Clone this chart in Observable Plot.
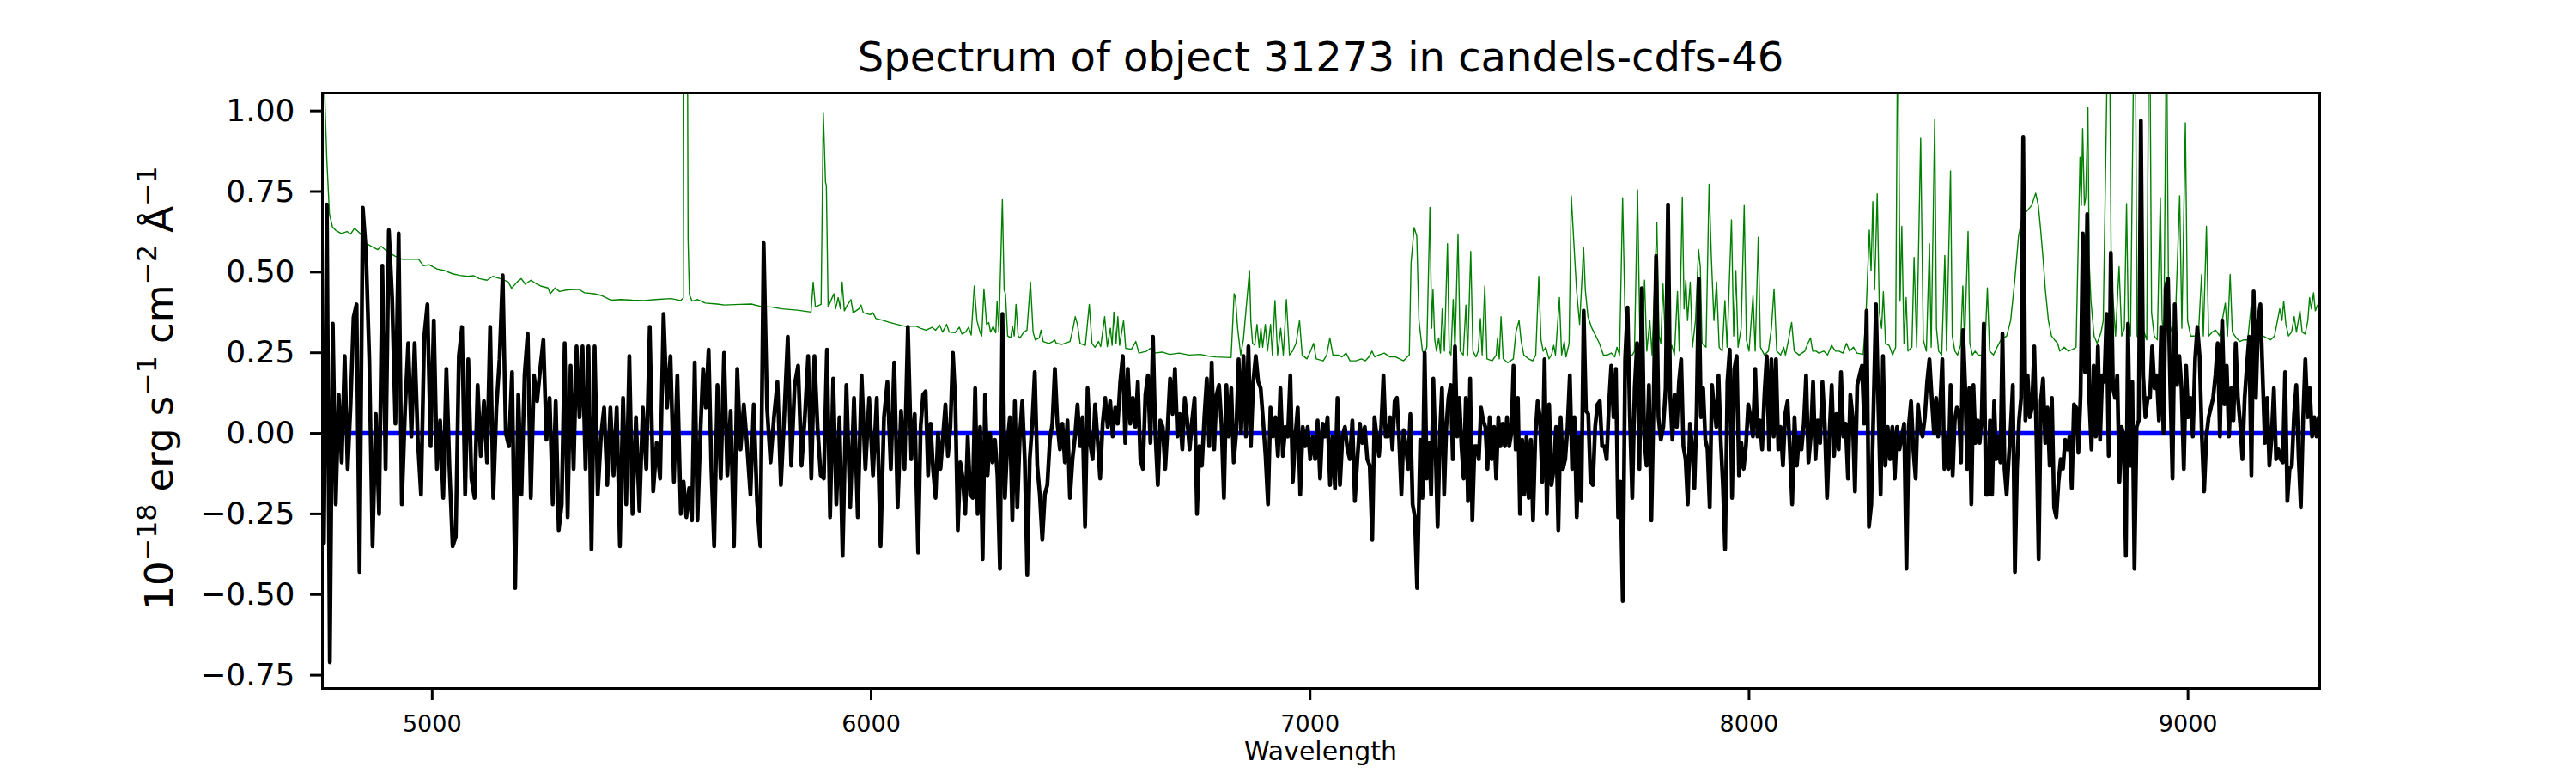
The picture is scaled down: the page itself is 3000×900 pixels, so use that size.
<!DOCTYPE html>
<html><head><meta charset="utf-8">
<script src="https://cdn.jsdelivr.net/npm/d3@7"></script>
<script src="https://cdn.jsdelivr.net/npm/@observablehq/plot@0.6"></script>
<style>
body{margin:0;background:#fff;width:3000px;font-family:"DejaVu Sans",sans-serif;}
#title{margin-left:375px;width:2326px;text-align:center;font-size:48px;line-height:70px;height:70px;padding-top:31px;color:#000;white-space:nowrap;}
#chart svg{display:block;}
</style></head><body>
<div id="title">Spectrum of object 31273 in candels-cdfs-46</div>
<div id="chart"></div>
<script>
// Tick values
const xTicks = [5000, 6000, 7000, 8000, 9000];
const yTicks = [-0.75, -0.5, -0.25, 0, 0.25, 0.5, 0.75, 1.0];
const xDomain = [4750, 9300];
const yDomain = [-0.791, 1.055];

// Observed flux (black), read in four wavelength stretches
const fluxA = [-0.34,0.71,-0.71,0.34,-0.22,0.12,-0.09,0.24,-0.11,0.09,0.36,0.40,-0.43,0.70,0.56,0.23,-0.35,0.06,-0.25,0.52,-0.11,0.63,0.42,0.03,0.62,-0.22,0.07,0.28,-0.01,0.28,-0.02,-0.19,0.30,0.40,-0.04,0.35,-0.11,0.04,-0.20,0.20,-0.11,-0.35,-0.32,0.24,0.33,-0.19,0.23,-0.14,-0.20,0.15,-0.07,0.10,-0.09,0.33,-0.20,0.08,0.23,0.49,0.00,-0.04,0.19,-0.48,0.12,-0.19,0.18,0.31,-0.20,0.18,0.10,0.20,0.29,-0.02,0.11,-0.22,0.10,-0.30,-0.22,0.28,-0.26,0.21,-0.11,0.27,0.05,0.27,-0.11,0.27,-0.36,0.27,-0.19,-0.01,0.08,-0.16,0.08,-0.13,0.08,-0.35,0.11,-0.22,0.24,-0.25,0.05,-0.24,0.08,-0.11,0.33,-0.18,-0.03,-0.14,0.37,0.08,0.24,-0.15,0.18,-0.25,-0.15,-0.26,-0.17,-0.27,0.22,-0.27,-0.01,0.20,0.08,0.26,-0.11,-0.35,0.15,-0.14,0.25,-0.13,0.07,-0.35,0.20,-0.05,0.09,-0.04,-0.19,0.09,-0.21,-0.35,0.59,0.08,-0.09,0.05,0.16,-0.16,0.06,0.30,-0.10,0.15,0.21,-0.10,0.06,0.24,-0.14,0.24,0.02,-0.13,-0.14,0.26,-0.26,0.17,-0.22,0.05,-0.38,0.15,-0.23,0.11,-0.26,0.18,-0.11,0.11,-0.13,0.11,-0.35,0.05,0.16,-0.11,0.22,-0.23,0.07,-0.11,0.33,-0.08,0.06,-0.37];
const fluxB = [0.02,0.12,0.13,-0.13,0.03,-0.11,-0.20,0.00,-0.11,-0.01,0.09,-0.07,0.02,0.25,0.10,-0.30,-0.09,-0.14,-0.25,-0.01,-0.19,-0.20,0.14,-0.25,0.02,-0.39,0.12,-0.13,0.00,-0.09,-0.02,-0.13,-0.42,0.37,-0.20,-0.03,0.05,-0.27,0.10,-0.23,-0.01,0.10,-0.08,-0.44,-0.08,0.03,0.19,-0.10,-0.19,-0.33,-0.19,-0.16,-0.02,0.03,0.20,0.03,-0.05,0.03,-0.09,0.04,-0.20,-0.08,-0.01,0.09,-0.04,0.05,-0.29,0.14,-0.03,-0.08,0.09,-0.02,-0.14,0.03,0.11,0.02,0.10,-0.01,0.08,0.03,0.16,0.24,-0.03,0.20,0.03,0.11,0.02,0.16,-0.08,-0.11,0.12,0.18,-0.03,0.30,0.00,-0.16,0.04,0.02,-0.11,0.02,0.17,0.06,0.20,-0.01,0.06,-0.05,0.11,0.04,-0.05,0.04,0.11,-0.25,-0.04,-0.10,0.05,0.17,-0.04,0.22,-0.05,0.12,0.15,0.03,-0.20,0.15,-0.01,0.14,-0.09,0.00,0.23,0.00,0.24,-0.01,0.27,-0.04,0.16,0.24,0.16,0.14,0.04,-0.07,-0.22,0.08,-0.01,0.05,-0.07,0.14,-0.07,0.02,-0.01,0.18,-0.15,-0.01,0.08,-0.19,0.02,-0.04,0.02,-0.08,-0.01,-0.08,0.04,-0.14,0.03,-0.01,0.05,-0.16,-0.01,-0.17,0.11,-0.16,-0.01,0.02,-0.05,-0.08,0.04,-0.21,-0.08,0.03,-0.03,0.02,-0.08,-0.10,-0.33,0.05,-0.01,-0.07,0.02,0.18,-0.01,-0.01,0.05,-0.05,0.10,0.11,-0.02,-0.19,0.01,-0.04,-0.11,0.06,-0.22,-0.26,-0.48];
const fluxC = [-0.02,-0.20,0.25,-0.14,-0.03,-0.19,0.17,-0.04,-0.29,-0.01,0.14,-0.19,0.02,0.11,0.15,-0.08,0.27,-0.01,0.11,-0.04,-0.14,0.11,-0.21,0.17,-0.27,-0.04,-0.04,-0.08,0.08,0.04,0.02,-0.11,0.05,-0.08,0.02,-0.14,0.05,-0.04,0.03,-0.04,0.05,-0.04,0.00,0.21,-0.05,0.11,-0.25,-0.02,-0.19,-0.01,-0.20,-0.02,-0.27,-0.01,0.10,0.05,-0.15,0.23,-0.25,0.09,-0.16,-0.11,0.02,-0.30,0.05,-0.11,-0.08,0.02,0.18,-0.11,0.05,-0.26,-0.01,-0.21,0.38,0.07,0.06,-0.15,-0.16,0.02,0.09,0.10,-0.04,-0.04,-0.08,0.09,0.21,0.05,0.20,-0.26,-0.15,-0.52,0.23,0.39,0.05,-0.20,0.14,0.28,-0.11,0.45,-0.01,-0.10,0.15,-0.27,0.11,0.55,0.05,-0.02,0.02,0.14,0.71,0.12,-0.02,0.12,0.02,0.16,0.23,-0.04,-0.08,-0.22,0.03,-0.04,-0.17,0.06,0.48,0.05,0.14,-0.02,-0.05,-0.23,0.15,0.08,0.02,0.18,-0.02,-0.16,-0.36,0.16,0.26,-0.20,0.20,0.24,-0.13,-0.03,-0.11,-0.04,0.09,0.05,-0.01,0.20,-0.01,0.04,-0.05,0.12,0.24,-0.05,0.23,-0.01,0.23,-0.05,0.02,-0.10,0.06,0.10,-0.05,-0.22,0.05,-0.10,-0.01,-0.05,0.03,0.18,-0.09,-0.01,0.16,-0.08,0.04,-0.03,0.16,0.03,-0.20,-0.01,0.15,-0.07,0.06,-0.05,0.19,-0.01,0.03,-0.14,0.12,0.05,-0.18,0.15,0.18,0.21,0.03,0.38,-0.29,-0.22,0.09,0.40,0.09,-0.19,0.24,-0.10,0.02,-0.08,0.02,-0.14,0.02,-0.05,-0.01,0.03,-0.42,0.02,0.10,-0.05,-0.14,0.09,0.02,-0.01,0.05,0.16,0.23];
const fluxD = [0.10,0.00,0.11,-0.01,0.09,0.23,-0.11,-0.01,-0.11,0.15,-0.13,0.04,0.08,0.07,-0.09,0.32,0.15,-0.11,0.14,-0.22,0.15,-0.03,0.04,-0.03,0.05,0.34,-0.19,-0.19,0.04,-0.19,0.10,-0.08,-0.01,-0.09,0.31,-0.11,-0.19,-0.08,0.02,0.15,-0.43,-0.11,0.04,0.11,0.92,0.04,0.18,0.05,0.08,0.27,-0.01,-0.39,0.10,0.17,-0.03,0.08,-0.10,0.11,-0.23,-0.26,-0.15,-0.08,-0.11,-0.02,-0.05,-0.01,-0.17,0.09,0.08,-0.06,0.12,0.62,0.19,0.68,0.10,-0.05,0.21,-0.01,0.27,-0.02,0.18,0.16,0.37,-0.07,0.56,0.14,0.11,0.18,-0.15,0.02,-0.01,-0.38,0.34,-0.10,0.16,-0.42,0.02,0.04,0.97,0.18,0.05,0.11,0.11,0.27,0.14,0.18,0.04,0.33,0.00,0.45,0.48,0.14,-0.14,0.40,0.15,0.24,0.14,-0.11,0.21,0.05,0.11,-0.01,0.23,0.33,0.24,-0.01,-0.18,-0.01,0.05,0.08,0.11,0.18,0.28,-0.01,0.35,0.09,0.21,-0.01,0.14,0.04,0.28,0.11,0.03,-0.08,0.11,0.21,0.30,-0.13,0.44,0.11,0.35,0.40,0.18,-0.03,0.11,-0.10,-0.01,0.14,-0.08,-0.05,-0.08,-0.09,0.19,-0.21,-0.11,-0.10,0.06,0.15,-0.07,-0.23,0.04,0.23,0.05,0.14,-0.01,0.05,-0.01,0.05];
// Wavelengths read at marked samples of each stretch: [sample index, wavelength]
const waveAnchorsA = [[0,4753.3],[12,4834.5],[24,4923.6],[36,5011.0],[48,5096.5],[61,5189.1],[73,5274.7],[86,5362.9],[99,5456.4],[113,5566.4],[125,5642.4],[140,5755.1],[152,5849.4],[164,5935.0],[174,6021.5],[185,6107.1]];
const waveAnchorsB = [[0,6112.8],[43,6355.6],[93,6642.0],[140,6904.1],[182,7141.6],[202,7243.8]];
const waveAnchorsC = [[0,7251.1],[52,7507.9],[91,7712.3],[110,7815.4],[136,7945.5],[165,8098.3],[197,8267.8],[214,8358.6],[224,8411.0]];
const waveAnchorsD = [[0,8416.7],[44,8624.6],[73,8770.4],[98,8892.7],[134,9077.9],[177,9298.0]];
const fluxStretches = [
  {flux: fluxA, anchors: waveAnchorsA},
  {flux: fluxB, anchors: waveAnchorsB},
  {flux: fluxC, anchors: waveAnchorsC},
  {flux: fluxD, anchors: waveAnchorsD}
];

// Sky / error spectrum (green): [wavelength, value]
const skySpectrum = [[4750,1.5],[4755,1.06],[4760,0.85],[4766,0.68],[4773,0.64],[4780,0.63],[4793,0.62],[4806,0.626],[4814,0.618],[4823,0.636],[4836,0.62],[4849,0.59],[4862,0.58],[4876,0.57],[4884,0.58],[4897,0.565],[4915,0.55],[4932,0.54],[4950,0.54],[4969,0.54],[4980,0.52],[4993,0.523],[5011,0.51],[5028,0.505],[5046,0.495],[5063,0.49],[5081,0.487],[5094,0.489],[5107,0.48],[5125,0.475],[5138,0.487],[5155,0.48],[5173,0.47],[5181,0.45],[5194,0.47],[5203,0.48],[5212,0.463],[5225,0.475],[5238,0.463],[5247,0.457],[5264,0.451],[5269,0.433],[5280,0.451],[5290,0.44],[5308,0.445],[5334,0.447],[5347,0.436],[5369,0.433],[5387,0.427],[5408,0.413],[5430,0.415],[5456,0.413],[5483,0.412],[5509,0.415],[5544,0.418],[5566,0.412],[5572,0.42],[5575,1.9],[5580,1.9],[5583,0.6],[5586,0.43],[5592,0.41],[5605,0.415],[5622,0.404],[5649,0.401],[5666,0.398],[5701,0.40],[5727,0.401],[5753,0.392],[5771,0.392],[5797,0.386],[5832,0.382],[5863,0.376],[5868,0.469],[5873,0.392],[5886,0.40],[5891,0.995],[5896,0.779],[5898,0.767],[5902,0.392],[5906,0.404],[5915,0.433],[5919,0.386],[5925,0.421],[5930,0.386],[5934,0.469],[5939,0.38],[5946,0.398],[5954,0.415],[5959,0.374],[5972,0.386],[5977,0.398],[5982,0.374],[5998,0.368],[6004,0.374],[6011,0.356],[6028,0.35],[6042,0.344],[6059,0.338],[6077,0.332],[6103,0.332],
[6112,0.326],[6125,0.32],[6139,0.329],[6147,0.32],[6156,0.336],[6163,0.314],[6172,0.338],[6178,0.314],[6191,0.312],[6201,0.329],[6207,0.308],[6215,0.314],[6222,0.329],[6228,0.305],[6235,0.457],[6241,0.35],[6248,0.314],[6252,0.302],[6257,0.448],[6263,0.338],[6268,0.344],[6272,0.314],[6278,0.332],[6284,0.312],[6287,0.41],[6291,0.314],[6299,0.725],[6303,0.445],[6306,0.433],[6311,0.302],[6318,0.296],[6322,0.332],[6326,0.302],[6330,0.40],[6335,0.302],[6339,0.296],[6348,0.314],[6355,0.32],[6363,0.469],[6369,0.314],[6374,0.29],[6383,0.296],[6387,0.32],[6392,0.285],[6405,0.279],[6414,0.285],[6418,0.29],[6422,0.279],[6435,0.276],[6453,0.285],[6460,0.326],[6465,0.362],[6470,0.338],[6476,0.279],[6488,0.273],[6497,0.40],[6503,0.279],[6510,0.267],[6518,0.285],[6523,0.269],[6532,0.362],[6538,0.269],[6545,0.326],[6549,0.273],[6553,0.376],[6558,0.279],[6562,0.362],[6566,0.273],[6575,0.35],[6580,0.264],[6593,0.261],[6603,0.285],[6610,0.249],[6628,0.255],[6636,0.264],[6645,0.249],[6663,0.252],[6680,0.245],[6702,0.249],[6724,0.243],[6750,0.245],[6767,0.240],[6785,0.237],[6820,0.235],[6827,0.433],[6830,0.421],[6835,0.326],[6842,0.243],[6848,0.29],[6862,0.505],[6865,0.35],[6869,0.279],[6874,0.273],[6879,0.338],[6884,0.267],[6888,0.326],[6892,0.267],[6898,0.338],[6903,0.255],[6910,0.338],[6914,0.243],[6920,0.412],[6926,0.243],[6933,0.326],[6939,0.243],[6946,0.415],[6953,0.243],[6960,0.255],[6968,0.279],[6976,0.35],[6982,0.243],[6993,0.231],[7001,0.255],[7008,0.279],[7014,0.231],[7030,0.225],[7038,0.243],[7045,0.296],[7052,0.243],[7064,0.243],[7073,0.237],[7082,0.249],[7091,0.225],[7104,0.225],[7117,0.231],[7126,0.225],[7134,0.237],[7141,0.255],[7147,0.237],[7156,0.243],[7169,0.249],[7182,0.237],[7195,0.237],[7204,0.231],[7213,0.225],[7226,0.243],[7230,0.529],[7237,0.638],[7243,0.612],[7248,0.35],[7256,0.255],[7260,0.243],
[7266,0.267],[7273,0.701],[7277,0.326],[7280,0.445],[7284,0.29],[7288,0.255],[7293,0.296],[7297,0.249],[7301,0.386],[7306,0.255],[7313,0.588],[7317,0.255],[7321,0.243],[7326,0.415],[7330,0.255],[7337,0.618],[7342,0.255],[7349,0.243],[7355,0.398],[7359,0.243],[7366,0.564],[7371,0.255],[7378,0.237],[7383,0.255],[7388,0.356],[7392,0.243],[7398,0.457],[7403,0.231],[7415,0.225],[7424,0.243],[7427,0.296],[7431,0.231],[7435,0.362],[7440,0.231],[7450,0.219],[7463,0.231],[7469,0.314],[7476,0.35],[7481,0.285],[7487,0.243],[7498,0.231],[7507,0.225],[7514,0.243],[7521,0.487],[7526,0.29],[7531,0.255],[7537,0.267],[7544,0.231],[7550,0.243],[7555,0.273],[7559,0.243],[7568,0.421],[7573,0.243],[7579,0.285],[7583,0.237],[7590,0.279],[7595,0.737],[7600,0.612],[7607,0.445],[7614,0.338],[7623,0.576],[7627,0.445],[7633,0.362],[7642,0.326],[7651,0.302],[7659,0.279],[7668,0.243],[7677,0.243],[7686,0.249],[7694,0.237],[7699,0.267],[7705,0.243],[7712,0.731],[7717,0.398],[7721,0.267],[7727,0.243],[7734,0.243],[7739,0.255],[7746,0.755],[7751,0.326],[7756,0.243],[7762,0.475],[7767,0.255],[7774,0.35],[7779,0.243],[7790,0.654],[7795,0.302],[7799,0.279],[7804,0.463],[7810,0.267],[7817,0.243],[7824,0.273],[7830,0.243],[7837,0.44],[7841,0.255],[7848,0.733],[7852,0.386],[7856,0.475],[7860,0.35],[7866,0.469],[7871,0.267],[7878,0.35],[7885,0.57],[7889,0.517],[7893,0.279],[7902,0.267],[7909,0.773],[7914,0.552],[7920,0.35],[7926,0.469],[7932,0.267],[7939,0.255],[7945,0.412],[7950,0.267],[7960,0.662],[7965,0.302],[7970,0.505],[7975,0.267],[7982,0.326],[7989,0.707],[7994,0.29],[8000,0.255],[8009,0.427],[8014,0.255],[8021,0.608],[8026,0.267],[8035,0.243],[8044,0.255],[8051,0.326],[8057,0.448],[8063,0.255],[8072,0.243],[8079,0.267],[8083,0.243],[8090,0.29],[8097,0.344],[8103,0.255],[8114,0.243],[8127,0.255],[8134,0.279],[8140,0.296],[8145,0.255],[8153,0.255],[8159,0.249],[8170,0.255],[8179,0.243],[8188,0.273],[8197,0.255],[8205,0.255],[8214,0.249],[8222,0.279],[8229,0.255],[8238,0.267],[8246,0.249],[8260,0.245],[8266,0.35],[8274,0.63],[8278,0.505],[8282,0.719],[8286,0.445],[8292,0.743],[8297,0.374],[8302,0.326],[8306,0.439],[8311,0.279],[8319,0.273],[8327,0.243],[8334,0.267],[8339,1.4],[8344,0.41],[8348,0.642],[8353,0.279],[8358,0.421],[8362,0.255],[8371,0.267],[8376,0.546],[8382,0.267],[8391,0.915],[8397,0.29],[8404,0.255],[8411,0.588],[8415,0.267],
[8423,0.975],[8427,0.326],[8432,0.255],[8439,0.243],[8446,0.552],[8450,0.255],[8459,0.814],[8463,0.302],[8469,0.255],[8475,0.243],[8482,0.273],[8487,0.457],[8491,0.279],[8499,0.626],[8503,0.279],[8509,0.243],[8515,0.255],[8522,0.243],[8531,0.243],[8537,0.255],[8543,0.451],[8548,0.255],[8557,0.243],[8565,0.267],[8574,0.29],[8587,0.302],[8596,0.35],[8605,0.469],[8614,0.612],[8621,0.66],[8629,0.683],[8644,0.707],[8653,0.745],[8659,0.707],[8664,0.636],[8670,0.54],[8675,0.445],[8682,0.35],[8689,0.302],[8696,0.29],[8703,0.279],[8708,0.255],[8718,0.267],[8727,0.255],[8738,0.261],[8745,0.267],[8750,0.588],[8754,0.856],[8757,0.707],[8760,0.945],[8764,0.707],[8767,0.731],[8772,1.011],[8775,0.529],[8779,0.41],[8786,0.302],[8793,0.279],[8802,0.314],[8807,0.35],[8820,1.5],[8825,0.529],[8829,0.421],[8835,0.302],[8843,0.517],[8849,0.302],[8855,0.326],[8860,0.713],[8864,0.35],[8869,0.302],[8879,1.5],[8884,0.302],[8889,0.29],[8897,0.326],[8906,0.29],[8912,1.5],[8917,0.374],[8923,0.302],[8930,0.29],[8937,0.731],[8941,0.35],[8945,0.302],[8951,1.3],[8956,0.35],[8963,0.314],[8970,0.302],[8981,0.737],[8986,0.326],[8994,0.963],[8999,0.35],[9006,0.302],[9015,0.302],[9024,0.314],[9031,0.493],[9035,0.302],[9042,0.642],[9047,0.302],[9055,0.314],[9063,0.32],[9072,0.302],[9085,0.404],[9090,0.302],[9096,0.493],[9101,0.314],[9110,0.296],[9118,0.285],[9127,0.29],[9136,0.29],[9144,0.398],[9149,0.302],[9159,0.308],[9171,0.302],[9179,0.296],[9188,0.29],[9197,0.302],[9209,0.386],[9214,0.35],[9218,0.41],[9223,0.338],[9229,0.302],[9236,0.314],[9242,0.362],[9247,0.314],[9255,0.38],[9260,0.314],[9267,0.308],[9273,0.35],[9277,0.421],[9281,0.386],[9286,0.436],[9290,0.38],[9295,0.398],[9299,0.386]];

// Model (blue)
const modelWave = [4750, 9300];
const modelFlux = [0, 0];

function waveAt(anchors, i) {
  for (let k = 0; k < anchors.length - 1; k++) {
    const [i0, w0] = anchors[k], [i1, w1] = anchors[k + 1];
    if (i <= i1) return w0 + (i - i0) * (w1 - w0) / (i1 - i0);
  }
  return anchors[anchors.length - 1][1];
}
const spectrum = fluxStretches.flatMap(s => s.flux.map((f, i) => ({wave: waveAt(s.anchors, i), flux: f})));
const sky = skySpectrum.map(([wave, value]) => ({wave, value}));
const model = modelWave.map((w, i) => ({wave: w, flux: modelFlux[i]}));

const chart = Plot.plot({
  width: 3000,
  height: 799,
  marginLeft: 375, marginRight: 299, marginTop: 7, marginBottom: 99,
  x: {domain: xDomain},
  y: {domain: yDomain},
  style: {fontFamily: '"DejaVu Sans", sans-serif', background: "#fff", color: "#000", overflow: "visible"},
  marks: [
    Plot.line(sky, {x: "wave", y: "value", stroke: "#008000", strokeWidth: 1.4, clip: true}),
    Plot.line(model, {x: "wave", y: "flux", stroke: "#0000ff", strokeWidth: 5.6, clip: true}),
    Plot.line(spectrum, {x: "wave", y: "flux", stroke: "#000000", strokeWidth: 4.6, clip: true}),
    Plot.frame({stroke: "#000", strokeWidth: 3}),
    Plot.axisX({ticks: xTicks, tickSize: 14, tickPadding: 17, fontSize: 27, strokeWidth: 3, label: null, tickFormat: d3.format("d"), fill: "#000"}),
    Plot.axisY({ticks: yTicks, tickSize: 14, tickPadding: 18, fontSize: 36, strokeWidth: 3, label: null, tickFormat: d3.format(".2f"), fill: "#000"})
  ]
});
document.getElementById("chart").appendChild(chart);

const svg = d3.select(chart);
svg.append("text")
  .attr("x", 1538).attr("y", 784)
  .attr("text-anchor", "middle")
  .attr("font-size", 30)
  .attr("fill", "#000")
  .text("Wavelength");

const yl = svg.append("text")
  .attr("transform", "translate(201,351) rotate(-90)")
  .attr("text-anchor", "middle")
  .attr("font-size", 45)
  .attr("fill", "#000")
  .style("white-space", "pre");
const labelParts = [["10", false], ["−18", true], [" erg s", false], ["−1", true], [" cm", false], ["−2", true], [" Å", false], ["−1", true]];
let raised = false;
labelParts.forEach(([t, sup]) => {
  const ts = yl.append("tspan").text(t);
  if (sup) { ts.attr("font-size", 31.5).attr("dy", raised ? 0 : -19); raised = true; }
  else { ts.attr("dy", raised ? 19 : 0); raised = false; }
});
</script></body></html>
